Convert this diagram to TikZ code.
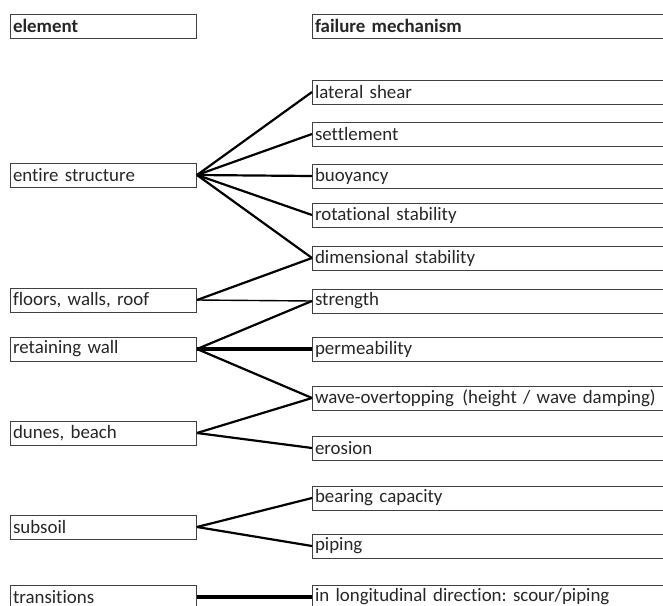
\documentclass[tikz,border=0pt]{standalone}
\usepackage{fontspec}
\setmainfont{Carlito}[Ligatures={NoCommon,NoRequired}]
\begin{document}
\frenchspacing
\begin{tikzpicture}[x=1pt,y=-1pt,
    elem/.style={draw=black!75,line width=1pt,rectangle,anchor=west,minimum height=24pt,
        inner xsep=2.5pt,inner ysep=0pt,text width=181pt,align=left,text=black!85,
        font=\fontsize{18.9}{21}\selectfont},
    mech/.style={elem,text width=395pt},
    link/.style={line width=2.2pt},
    lightlink/.style={line width=1.4pt},
    heavylink/.style={line width=3.2pt}]
    \useasboundingbox (0,0) rectangle (663,605);
    \clip (0,0) rectangle (663,605);

    % elements
    \node[elem,font=\fontsize{18.9}{21}\selectfont\bfseries] (hd1) at (10,26) {element};
    \node[elem] (es) at (10,175) {entire structure};
    \node[elem] (fw) at (10,300) {floors, walls, roof};
    \node[elem] (rw) at (10,349) {retaining wall};
    \node[elem] (db) at (10,433) {dunes, beach};
    \node[elem] (ss) at (10,527) {subsoil};
    \node[elem] (tr) at (10,597) {transitions};

    % failure mechanisms
    \node[mech,font=\fontsize{18.9}{21}\selectfont\bfseries] (hd2) at (312,26) {failure mechanism};
    \node[mech] (ls) at (312,92) {lateral shear};
    \node[mech] (st) at (312,134) {settlement};
    \node[mech] (bu) at (312,176) {buoyancy};
    \node[mech] (rs) at (312,215) {rotational stability};
    \node[mech] (ds) at (312,258) {dimensional stability};
    \node[mech] (sg) at (312,301) {strength};
    \node[mech] (pm) at (312,349) {permeability};
    \node[mech] (wo) at (312,398) {wave-overtopping\hspace{0.45em}(height / wave damping)};
    \node[mech] (er) at (312,448) {erosion};
    \node[mech] (bc) at (312,498) {bearing capacity};
    \node[mech] (pp) at (312,546) {piping};
    \node[mech] (ld) at (312,597) {in longitudinal direction: scour/piping};

    % links
    \foreach \m in {ls,st,bu,rs,ds}
        \draw[link] (es.east) -- (\m.west);
    \draw[link] (fw.east) -- (ds.west);
    \draw[lightlink] (fw.east) -- (sg.west);
    \draw[link] (rw.east) -- (sg.west);
    \draw[heavylink] (rw.east) -- (pm.west);
    \draw[link] (rw.east) -- (wo.west);
    \draw[link] (db.east) -- (wo.west);
    \draw[link] (db.east) -- (er.west);
    \draw[link] (ss.east) -- (bc.west);
    \draw[link] (ss.east) -- (pp.west);
    \draw[heavylink] (tr.east) -- (ld.west);
\end{tikzpicture}
\end{document}
